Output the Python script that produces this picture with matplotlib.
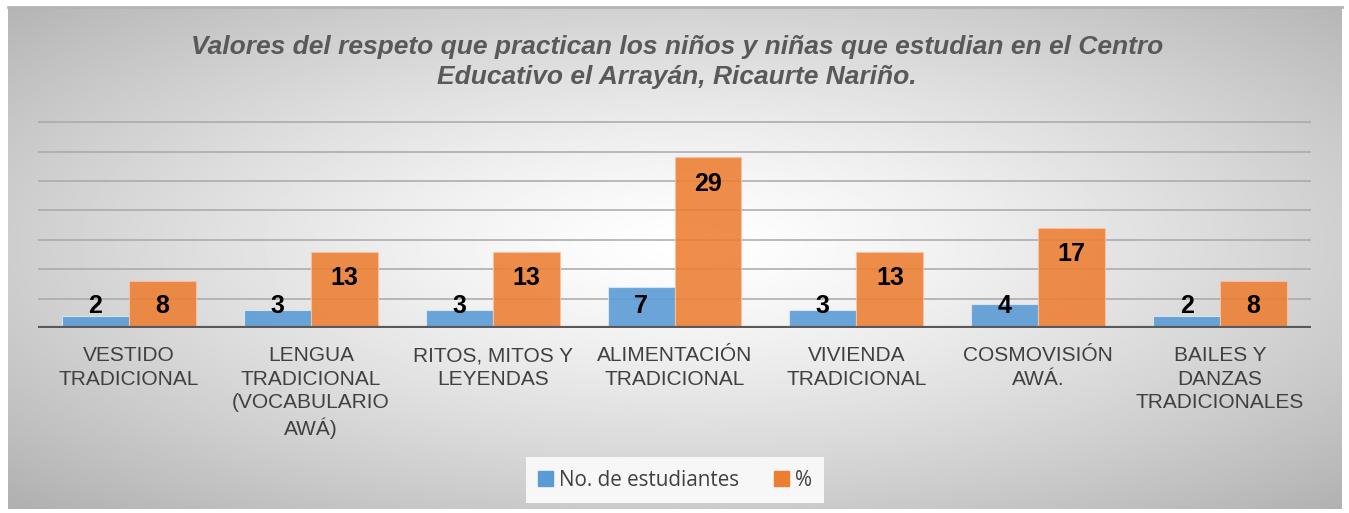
import numpy as np
import matplotlib.pyplot as plt
from matplotlib.patches import Patch

# data
categorias = ['VESTIDO\nTRADICIONAL', 'LENGUA\nTRADICIONAL\n(VOCABULARIO\nAWÁ)',
              'RITOS, MITOS Y\nLEYENDAS', 'ALIMENTACIÓN\nTRADICIONAL',
              'VIVIENDA\nTRADICIONAL', 'COSMOVISIÓN\nAWÁ.',
              'BAILES Y\nDANZAS\nTRADICIONALES']
estudiantes = [2, 3, 3, 7, 3, 4, 2]
porcentaje = [8, 13, 13, 29, 13, 17, 8]

titulo = ('Valores del respeto que practican los niños y niñas que estudian en el Centro\n'
          'Educativo el Arrayán, Ricaurte Nariño.')

W, H = 1349, 513
fig = plt.figure(figsize=(W / 100, H / 100), dpi=100)
fig.patch.set_facecolor('white')

# radial grey background of the chart area
bg = fig.add_axes([8 / W, 1 - 509 / H, (1342 - 8) / W, (509 - 7) / H])
gx, gy = np.meshgrid(np.linspace(-1, 1, 600), np.linspace(-1, 1, 240))
d = np.sqrt(((gx - 0.02) / 1.0) ** 2 + ((gy + 0.05) / 1.0) ** 2)
shade = np.clip(1 - 0.19 * d ** 1.3, 0, 1)
bg.imshow(shade, cmap='gray', vmin=0, vmax=1, aspect='auto', extent=[0, 1, 0, 1])
bg.axis('off')
bg.plot([0, 1], [1, 1], color='#b5b5b5', lw=2, transform=bg.transAxes, clip_on=False)

# main plot
ax = fig.add_axes([38 / W, 1 - 328 / H, (1311 - 38) / W, (328 - 121) / H])
ax.set_facecolor('none')
x = np.arange(len(categorias))
w = 0.368
ax.bar(x - w / 2, estudiantes, w, color='#5B9BD5', alpha=0.9, edgecolor='#dbe8f5', lw=0.8, zorder=3,
       label='No. de estudiantes')
ax.bar(x + w / 2, porcentaje, w, color='#ED7D31', alpha=0.88, edgecolor='#f6c4a3', lw=0.8, zorder=3,
       label='%')

for xs, vals in [(x - w / 2, estudiantes), (x + w / 2, porcentaje)]:
    for xi, v in zip(xs, vals):
        ax.text(xi, max(v - 4.5, 3.75), str(v), ha='center', va='center', fontsize=18,
                fontweight='bold', family='Liberation Sans', color='black', zorder=5)

ax.set_xlim(-0.5, len(categorias) - 0.5)
ax.set_ylim(0, 35.2)
ax.set_yticks(np.arange(0, 36, 5))
ax.yaxis.grid(True, color='#a8a8a8', lw=1.1)
ax.set_axisbelow(True)
ax.tick_params(axis='y', left=False, labelleft=False)
ax.set_xticks(x)
ax.set_xticklabels(categorias, fontsize=15, family='Liberation Sans', color='#404040',
                   linespacing=1.3)
ax.tick_params(axis='x', length=0, pad=13)
for s in ax.spines.values():
    s.set_visible(False)
ax.axhline(0, color='#595959', lw=3, zorder=4)

fig.text(677 / W, 1 - 62 / H, titulo, ha='center', va='center', fontsize=19,
         fontweight='bold', style='italic', family='Liberation Sans', color='#595959',
         linespacing=1.36)

handles = [Patch(color='#5B9BD5'), Patch(color='#ED7D31')]
leg = fig.legend(handles, ['No. de estudiantes', '%'], loc='center',
                 bbox_to_anchor=(675 / W, 1 - 480 / H), ncol=2, frameon=True,
                 prop={'family': 'Open Sans', 'size': 14.9}, handlelength=0.7, handleheight=0.7,
                 handletextpad=0.3, columnspacing=1.7, borderpad=0.6, fancybox=False)
leg.get_frame().set_facecolor('#f7f7f7')
leg.get_frame().set_edgecolor('none')
leg.get_frame().set_alpha(1)
for t in leg.get_texts():
    t.set_color('#404040')

plt.savefig('out.png', dpi=100)
